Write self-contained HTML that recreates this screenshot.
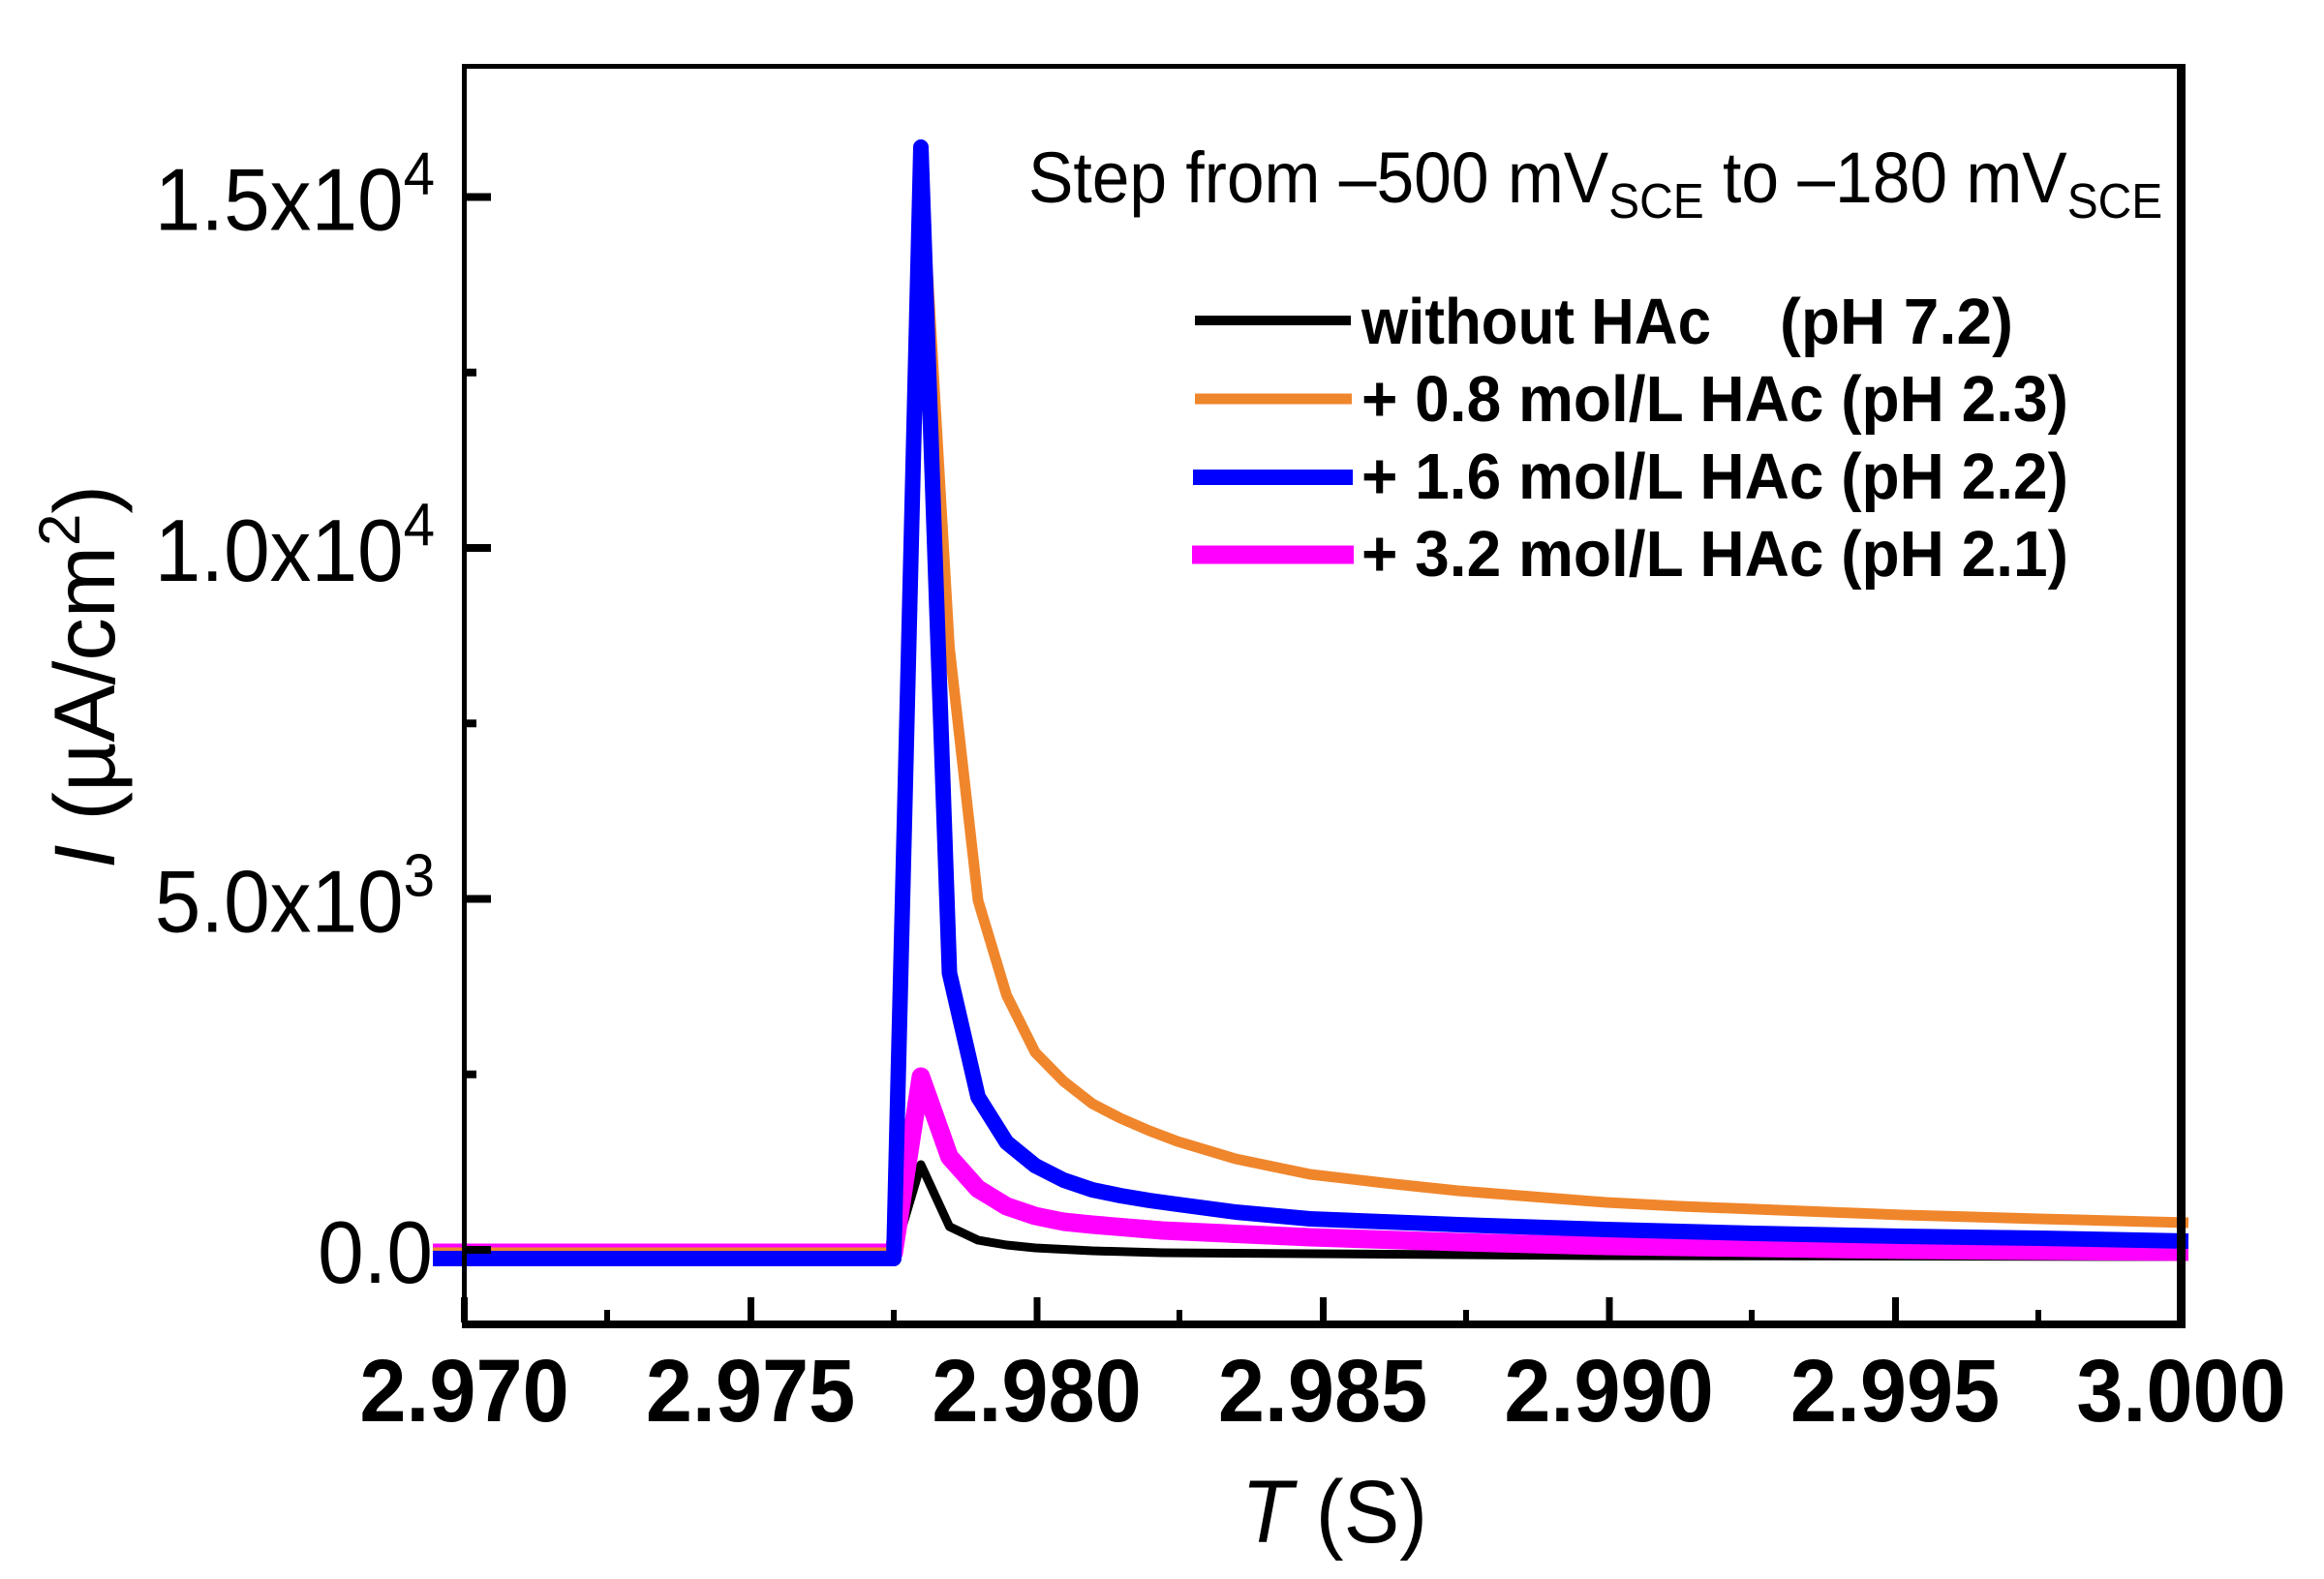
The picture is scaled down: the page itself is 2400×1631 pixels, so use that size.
<!DOCTYPE html>
<html>
<head>
<meta charset="utf-8">
<style>
html,body{margin:0;padding:0;background:#fff;}
svg{display:block;}
</style>
</head>
<body>
<svg width="2400" height="1631" viewBox="0 0 2400 1631" xmlns="http://www.w3.org/2000/svg" font-family="'Liberation Sans', Arial, sans-serif">
<rect x="0" y="0" width="2400" height="1631" fill="#fff"/>

<!-- data series -->
<g fill="none" stroke-linejoin="round" stroke-linecap="butt">
  <polyline stroke="#000000" stroke-width="9" points="447,1297 923,1297 951,1203 980.5,1267 1010,1281 1039.5,1286 1069,1289 1128,1292 1200,1294 1659,1297 2260,1298"/>
  <polyline stroke="#FF00FF" stroke-width="19" points="447,1294 923,1294 951,1112 980.5,1195 1010,1228 1039.5,1246 1069,1256 1098.5,1262 1128,1265 1200,1271 1353,1278 1506,1283 1659,1287 1812,1289 1965,1291 2260,1293"/>
  <polyline stroke="#F0862C" stroke-width="11" points="447,1294 923,1294 951,160 980.5,669 1010,930 1039.5,1028 1069,1087 1098.5,1117 1128,1140 1157,1155 1187,1168 1216,1179 1276,1197 1353,1213 1430,1222 1506,1230 1582,1236 1659,1242 1735,1246 1812,1249 1888,1252 1965,1255 2106,1259 2260,1263"/>
  <polyline stroke="#0000FF" stroke-width="16" points="447,1300 923,1300 951,152 980.5,1005 1010,1133 1039.5,1180 1069,1204 1098.5,1219 1128,1229 1157,1235 1187,1240 1216,1244 1276,1252 1353,1259 1506,1265 1659,1270 1812,1274 1965,1277 2106,1279 2260,1282"/>
</g>

<!-- frame -->
<g fill="#000">
  <rect x="477" y="66" width="5" height="1306"/>
  <rect x="477" y="66" width="1780" height="5"/>
  <rect x="2248" y="66" width="9" height="1306"/>
  <rect x="477" y="1364" width="1780" height="8"/>
</g>

<!-- x ticks -->
<g fill="#000">
  <rect x="476" y="1340" width="7" height="26"/>
  <rect x="772" y="1340" width="7" height="26"/>
  <rect x="1067.5" y="1340" width="7" height="26"/>
  <rect x="1363" y="1340" width="7" height="26"/>
  <rect x="1658.5" y="1340" width="7" height="26"/>
  <rect x="1954" y="1340" width="7" height="26"/>
  <rect x="624" y="1353" width="6" height="13"/>
  <rect x="920" y="1353" width="6" height="13"/>
  <rect x="1215" y="1353" width="6" height="13"/>
  <rect x="1511" y="1353" width="6" height="13"/>
  <rect x="1806" y="1353" width="6" height="13"/>
  <rect x="2102" y="1353" width="6" height="13"/>
</g>

<!-- y ticks -->
<g fill="#000">
  <rect x="480" y="199.5" width="27" height="8"/>
  <rect x="480" y="562" width="27" height="8"/>
  <rect x="480" y="924.5" width="27" height="8"/>
  <rect x="480" y="1287" width="27" height="8"/>
  <rect x="480" y="380.75" width="12" height="8"/>
  <rect x="480" y="743.25" width="12" height="8"/>
  <rect x="480" y="1105.75" width="12" height="8"/>
</g>

<!-- y tick labels -->
<g font-size="91" fill="#000" text-anchor="end">
  <text transform="translate(449,237.5) scale(0.94,1)" x="0" y="0">1.5x10<tspan font-size="62" dy="-37">4</tspan></text>
  <text transform="translate(449,600) scale(0.94,1)" x="0" y="0">1.0x10<tspan font-size="62" dy="-37">4</tspan></text>
  <text transform="translate(449,962.5) scale(0.94,1)" x="0" y="0">5.0x10<tspan font-size="62" dy="-37">3</tspan></text>
  <text transform="translate(447,1325) scale(0.94,1)" x="0" y="0">0.0</text>
</g>

<!-- x tick labels -->
<g font-size="92" font-weight="bold" fill="#000" text-anchor="middle">
  <text transform="translate(479.5,1468) scale(0.94,1)" x="0" y="0">2.970</text>
  <text transform="translate(775,1468) scale(0.94,1)" x="0" y="0">2.975</text>
  <text transform="translate(1070.5,1468) scale(0.94,1)" x="0" y="0">2.980</text>
  <text transform="translate(1366,1468) scale(0.94,1)" x="0" y="0">2.985</text>
  <text transform="translate(1661.5,1468) scale(0.94,1)" x="0" y="0">2.990</text>
  <text transform="translate(1957,1468) scale(0.94,1)" x="0" y="0">2.995</text>
  <text transform="translate(2252.5,1468) scale(0.94,1)" x="0" y="0">3.000</text>
</g>

<!-- axis titles -->
<text transform="translate(1378,1593) scale(0.94,1)" x="0" y="0" font-size="92" text-anchor="middle" fill="#000"><tspan font-style="italic">T</tspan> (S)</text>
<text transform="translate(118,699) rotate(-90)" x="0" y="0" font-size="89" text-anchor="middle" fill="#000"><tspan font-style="italic">I</tspan> (µA/cm<tspan font-size="60" dy="-36">2</tspan><tspan dy="36">)</tspan></text>

<!-- annotation -->
<text transform="translate(1062,209) scale(0.94,1)" x="0" y="0" font-size="74" fill="#000">Step from –500 mV<tspan font-size="51" dy="16">SCE</tspan><tspan dy="-16"> to –180 mV</tspan><tspan font-size="51" dy="16">SCE</tspan></text>

<!-- legend -->
<g>
  <rect x="1234" y="326" width="161" height="10" fill="#000"/>
  <rect x="1234" y="406.5" width="162" height="11" fill="#F0862C"/>
  <rect x="1232" y="485" width="165" height="16" fill="#0000FF"/>
  <rect x="1231" y="563.5" width="167" height="19" fill="#FF00FF"/>
</g>
<g font-size="67" font-weight="bold" fill="#000">
  <text x="1406" y="355" textLength="361" lengthAdjust="spacingAndGlyphs">without HAc</text>
  <text x="1838" y="355" textLength="241" lengthAdjust="spacingAndGlyphs">(pH 7.2)</text>
  <text x="1406" y="435" textLength="730" lengthAdjust="spacingAndGlyphs">+ 0.8 mol/L HAc (pH 2.3)</text>
  <text x="1406" y="515" textLength="730" lengthAdjust="spacingAndGlyphs">+ 1.6 mol/L HAc (pH 2.2)</text>
  <text x="1406" y="595" textLength="730" lengthAdjust="spacingAndGlyphs">+ 3.2 mol/L HAc (pH 2.1)</text>
</g>
</svg>
</body>
</html>
